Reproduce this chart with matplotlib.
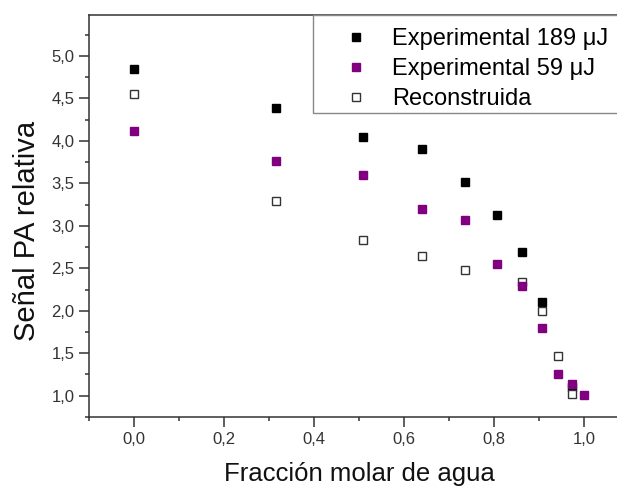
import matplotlib
matplotlib.use("Agg")
import matplotlib.pyplot as plt
import matplotlib.patches as mpatches
from matplotlib.ticker import MultipleLocator, FuncFormatter

plt.rcParams["font.family"] = ["Liberation Sans", "DejaVu Sans"]

# data
x_189 = [0.0, 0.315, 0.508, 0.639, 0.735, 0.805, 0.861, 0.907, 0.973]
y_189 = [4.85, 4.39, 4.04, 3.90, 3.52, 3.13, 2.69, 2.10, 1.10]

x_59 = [0.0, 0.315, 0.508, 0.639, 0.735, 0.805, 0.861, 0.907, 0.942, 0.973, 1.0]
y_59 = [4.11, 3.76, 3.60, 3.20, 3.07, 2.55, 2.29, 1.80, 1.26, 1.14, 1.01]

x_rec = [0.0, 0.315, 0.508, 0.639, 0.735, 0.861, 0.907, 0.942, 0.973]
y_rec = [4.55, 3.29, 2.83, 2.64, 2.48, 2.34, 2.00, 1.47, 1.02]

labels = ["Experimental 189 μJ", "Experimental 59 μJ", "Reconstruida"]

AXIS = "#333333"
PURPLE = "#800080"

fig = plt.figure(figsize=(6.17, 4.88), dpi=100)
ax = fig.add_axes([0.1447, 0.1455, 0.8752, 0.8238])

ax.plot(x_189, y_189, ls="none", marker="s", ms=6, color="black",
        mec="black", label=labels[0], zorder=3)
ax.plot(x_rec, y_rec, ls="none", marker="s", ms=6, mfc="white",
        mec=AXIS, mew=1.0, label=labels[2], zorder=4)
ax.plot(x_59, y_59, ls="none", marker="s", ms=6, color=PURPLE,
        mec=PURPLE, label=labels[1], zorder=5)

ax.set_xlim(-0.1, 1.1)
ax.set_ylim(0.75, 5.48)

ax.xaxis.set_major_locator(MultipleLocator(0.2))
ax.xaxis.set_minor_locator(MultipleLocator(0.1))
ax.yaxis.set_major_locator(MultipleLocator(0.5))
ax.yaxis.set_minor_locator(MultipleLocator(0.25))
fmt = FuncFormatter(lambda v, p: f"{v:.1f}".replace(".", ","))
ax.xaxis.set_major_formatter(fmt)
ax.yaxis.set_major_formatter(fmt)

ax.tick_params(which="major", direction="out", length=7, width=1.1,
               color=AXIS, labelsize=12, labelcolor="#333333")
ax.tick_params(which="minor", direction="out", length=3.2, width=1.1,
               color=AXIS)
ax.tick_params(axis="x", which="major", pad=4)
ax.tick_params(axis="y", which="major", pad=3.5)

for s in ax.spines.values():
    s.set_color(AXIS)
    s.set_linewidth(1.1)

ax.set_xlabel("Fracción molar de agua", fontsize=18.5, color="#111111")
ax.xaxis.set_label_coords(0.5, -0.112)
ax.xaxis.label.set_va("top")
ax.set_ylabel("Señal PA relativa", fontsize=21, color="#111111")
ax.yaxis.set_label_coords(-0.09, 0.464)

# legend frame drawn by hand so the entries can sit where they do in the original
frame = mpatches.Rectangle((0.4148, 0.757), 0.6, 0.243, transform=ax.transAxes,
                           facecolor="white", edgecolor="#888888", lw=1.0,
                           clip_on=False, zorder=6)
ax.add_patch(frame)

h, l = ax.get_legend_handles_labels()
order = [0, 2, 1]
leg = ax.legend([h[i] for i in order], [l[i] for i in order],
                loc="upper left", bbox_to_anchor=(0.416, 0.99),
                borderaxespad=0, fontsize=17, frameon=False,
                handlelength=2.8, handletextpad=0.1, markerscale=0.85,
                labelspacing=0.33, borderpad=0.4, numpoints=1)
leg.set_zorder(7)

fig.savefig("out.png", dpi=100, facecolor="white")
